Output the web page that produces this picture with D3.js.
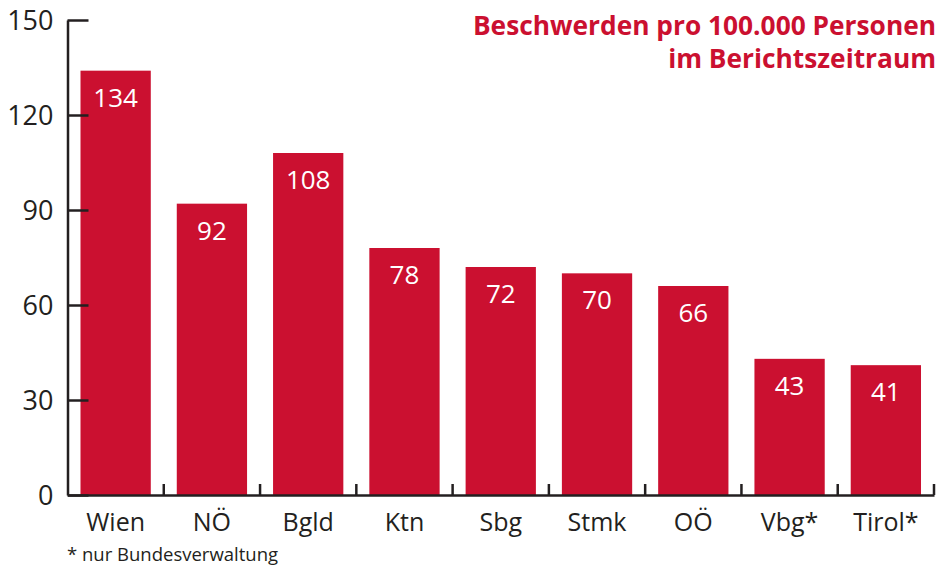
<!DOCTYPE html>
<html>
<head>
<meta charset="utf-8">
<script src="https://cdn.jsdelivr.net/npm/d3@7"></script>
<style>
  body { margin: 0; background: #fff; }
  text { font-family: "Open Sans", sans-serif; }
</style>
</head>
<body>
<script>
// data
const regions = ["Wien", "NÖ", "Bgld", "Ktn", "Sbg", "Stmk", "OÖ", "Vbg*", "Tirol*"];
const complaints = [134, 92, 108, 78, 72, 70, 66, 43, 41];
const yTicks = [0, 30, 60, 90, 120, 150];
const titleLines = ["Beschwerden pro 100.000 Personen", "im Berichtszeitraum"];
const footnote = "* nur Bundesverwaltung";

const w = 942;
const h = 568;
const red = "#cb1030";
const ink = "#231f20";

const plotLeft = 67.5;
const plotRight = 934;
const plotTop = 20;
const plotBottom = 495;

const svg = d3.select("body").append("svg").attr("width", w).attr("height", h);

const xScale = d3.scaleBand().domain(regions).range([plotLeft, plotRight]).padding(0);
const yScale = d3.scaleLinear().domain([0, 150]).range([plotBottom, plotTop]);

const barW = xScale.bandwidth() * 0.73;

// bars
svg.selectAll("rect.bar")
  .data(complaints)
  .enter()
  .append("rect")
  .attr("class", "bar")
  .attr("x", (d, i) => xScale(regions[i]) + (xScale.bandwidth() - barW) / 2)
  .attr("y", (d) => yScale(d))
  .attr("width", barW)
  .attr("height", (d) => plotBottom - yScale(d))
  .attr("fill", red);

// value labels
svg.selectAll("text.val")
  .data(complaints)
  .enter()
  .append("text")
  .attr("class", "val")
  .attr("x", (d, i) => xScale(regions[i]) + xScale.bandwidth() / 2)
  .attr("y", (d) => yScale(d) + 36)
  .attr("text-anchor", "middle")
  .attr("fill", "#fff")
  .attr("font-size", 26)
  .text((d) => d);

// y axis
const yAxis = d3.axisLeft(yScale).tickValues(yTicks).tickSize(0).tickPadding(14);
const gy = svg.append("g")
  .attr("transform", "translate(" + plotLeft + ",0)")
  .call(yAxis);
gy.select(".domain").attr("stroke", ink).attr("stroke-width", 2.5);
gy.selectAll(".tick text")
  .attr("font-size", 27)
  .attr("fill", ink)
  .attr("dy", "0.36em")
  .style("font-family", "'Open Sans', sans-serif");
gy.selectAll(".tick").append("line")
  .attr("x1", 0)
  .attr("x2", 21)
  .attr("stroke", ink)
  .attr("stroke-width", 2.5);

// x axis
const xAxis = d3.axisBottom(xScale).tickSize(0).tickPadding(18);
const gx = svg.append("g")
  .attr("transform", "translate(0," + plotBottom + ")")
  .call(xAxis);
gx.select(".domain").attr("stroke", ink).attr("stroke-width", 2.5);
gx.selectAll(".tick text")
  .attr("font-size", 25)
  .attr("fill", ink)
  .attr("dy", "0.71em")
  .style("font-family", "'Open Sans', sans-serif");

// separator ticks between categories
svg.selectAll("line.sep")
  .data(regions)
  .enter()
  .append("line")
  .attr("class", "sep")
  .attr("x1", (d) => xScale(d) + xScale.bandwidth())
  .attr("x2", (d) => xScale(d) + xScale.bandwidth())
  .attr("y1", plotBottom)
  .attr("y2", plotBottom - 11)
  .attr("stroke", ink)
  .attr("stroke-width", 2.5);

// title
svg.append("text")
  .attr("text-anchor", "end")
  .attr("fill", red)
  .attr("font-weight", "bold")
  .attr("font-size", 26.3)
  .selectAll("tspan")
  .data(titleLines)
  .enter()
  .append("tspan")
  .attr("x", 936)
  .attr("y", (d, i) => 35 + i * 33)
  .text((d) => d);

// footnote
svg.append("text")
  .attr("x", 67)
  .attr("y", 561)
  .attr("fill", ink)
  .attr("font-size", 18.5)
  .text(footnote);
</script>
</body>
</html>
